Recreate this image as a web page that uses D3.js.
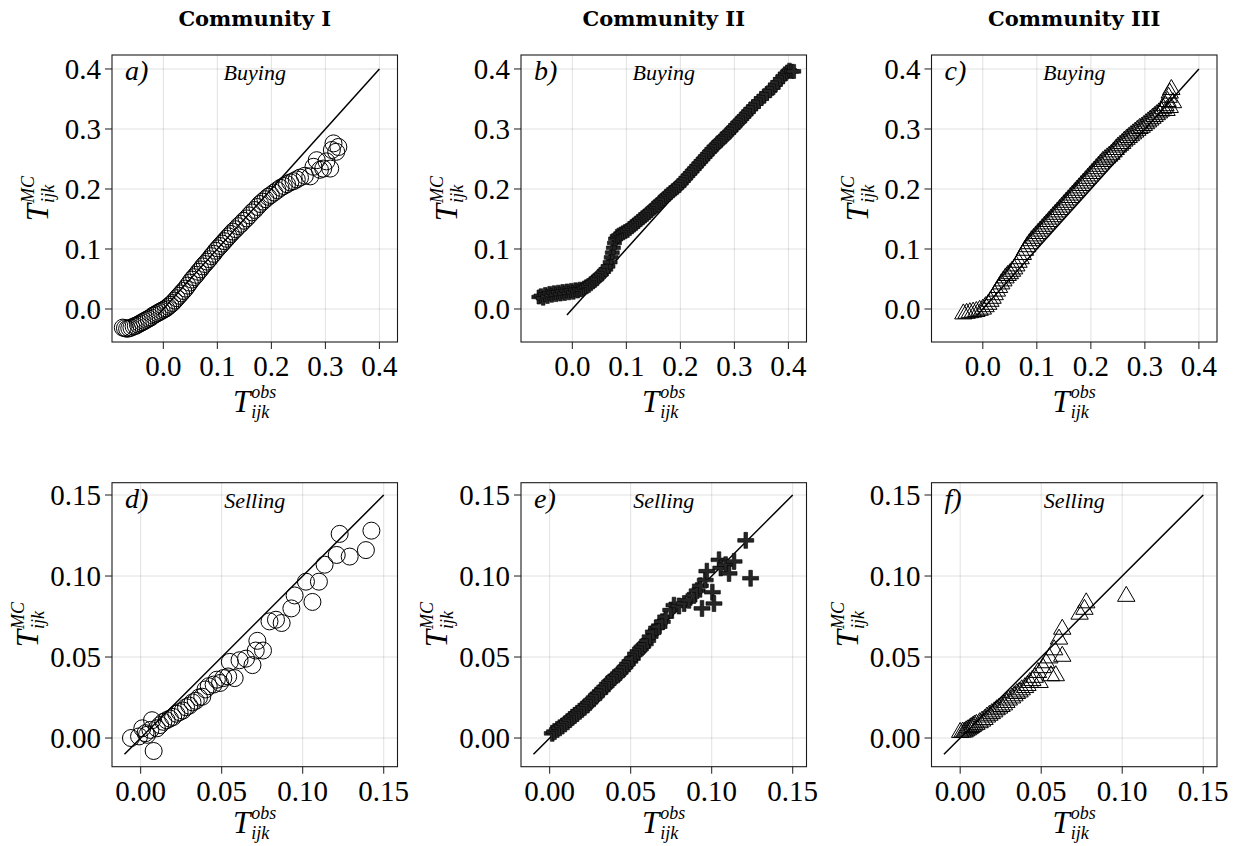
<!DOCTYPE html>
<html><head><meta charset="utf-8">
<script src="https://cdn.jsdelivr.net/npm/d3@7"></script>
<style>body{margin:0;background:#fff;} svg{display:block;}</style>
</head><body><svg id="c" width="1240" height="846"></svg>
<script>
// ---------- data ----------
const titles = ["Community I", "Community II", "Community III"];
const panelLetters = ["a)", "b)", "c)", "d)", "e)", "f)"];
const rowNames = ["Buying", "Selling"];
const topTicks = [0, 0.1, 0.2, 0.3, 0.4];
const topTickLabels = ["0.0", "0.1", "0.2", "0.3", "0.4"];
const bottomTicks = [0, 0.05, 0.10, 0.15];
const bottomTickLabels = ["0.00", "0.05", "0.10", "0.15"];
const topDiag = [-0.01, 0.4];
const bottomDiag = [-0.01, 0.15];

// a) Community I, buying (circles)
const aX = [-0.075,-0.071,-0.067,-0.063,-0.059,-0.055,-0.051,-0.047,-0.043,-0.039,-0.035,-0.031,-0.027,-0.023,-0.019,-0.015,-0.011,-0.007,-0.003,0.001,0.005,0.009,0.013,0.017,0.021,0.025,0.029,0.033,0.037,0.041,0.045,0.049,0.053,0.057,0.061,0.065,0.069,0.073,0.077,0.081,0.085,0.089,0.093,0.097,0.101,0.105,0.109,0.113,0.117,0.121,0.125,0.129,0.134,0.139,0.144,0.149,0.154,0.159,0.164,0.169,0.174,0.179,0.184,0.189,0.194,0.199,0.205,0.211,0.217,0.223,0.229,0.235,0.241,0.247,0.253,0.262,0.272,0.278,0.284,0.290,0.296,0.302,0.309,0.312,0.315,0.320,0.324];
const aY = [-0.031,-0.032,-0.033,-0.032,-0.031,-0.029,-0.028,-0.026,-0.024,-0.022,-0.020,-0.018,-0.016,-0.014,-0.011,-0.009,-0.007,-0.005,-0.003,-0.001,0.001,0.004,0.007,0.010,0.014,0.018,0.022,0.026,0.030,0.034,0.039,0.044,0.049,0.053,0.057,0.062,0.066,0.071,0.075,0.079,0.083,0.088,0.092,0.097,0.101,0.105,0.109,0.113,0.117,0.121,0.125,0.129,0.133,0.138,0.142,0.147,0.151,0.156,0.161,0.165,0.170,0.175,0.179,0.183,0.187,0.190,0.194,0.198,0.202,0.205,0.208,0.211,0.213,0.216,0.219,0.222,0.221,0.237,0.248,0.232,0.234,0.246,0.234,0.265,0.276,0.262,0.270];

// b) Community II, buying (plus)
const bX = [-0.062,-0.058,-0.054,-0.050,-0.046,-0.042,-0.038,-0.034,-0.030,-0.026,-0.022,-0.018,-0.014,-0.010,-0.006,-0.002,0.002,0.006,0.010,0.014,0.018,0.022,0.026,0.030,0.034,0.038,0.042,0.046,0.050,0.054,0.058,0.062,0.066,0.070,0.072,0.074,0.076,0.078,0.080,0.083,0.086,0.090,0.094,0.098,0.102,0.106,0.110,0.114,0.118,0.122,0.126,0.130,0.134,0.138,0.142,0.146,0.150,0.154,0.158,0.162,0.166,0.170,0.174,0.178,0.182,0.186,0.190,0.194,0.198,0.202,0.206,0.210,0.214,0.218,0.222,0.226,0.230,0.234,0.238,0.242,0.246,0.250,0.254,0.258,0.262,0.266,0.270,0.274,0.278,0.282,0.286,0.290,0.294,0.298,0.302,0.306,0.310,0.314,0.318,0.322,0.326,0.330,0.335,0.340,0.345,0.350,0.355,0.360,0.366,0.372,0.376,0.380,0.385,0.390,0.394,0.398,0.402,0.406,0.410];
const bY = [0.020,0.022,0.018,0.024,0.021,0.026,0.023,0.027,0.024,0.028,0.025,0.029,0.026,0.030,0.027,0.031,0.028,0.032,0.030,0.033,0.032,0.035,0.037,0.039,0.042,0.045,0.048,0.051,0.055,0.058,0.062,0.066,0.071,0.078,0.086,0.094,0.102,0.110,0.117,0.121,0.123,0.125,0.127,0.129,0.131,0.134,0.137,0.140,0.143,0.146,0.149,0.152,0.155,0.158,0.161,0.164,0.168,0.171,0.174,0.178,0.181,0.184,0.188,0.191,0.194,0.197,0.200,0.203,0.206,0.210,0.214,0.218,0.222,0.226,0.230,0.234,0.238,0.242,0.246,0.250,0.254,0.258,0.262,0.266,0.270,0.273,0.277,0.280,0.284,0.287,0.291,0.294,0.298,0.302,0.306,0.310,0.313,0.317,0.321,0.325,0.329,0.333,0.337,0.342,0.346,0.351,0.355,0.359,0.364,0.369,0.374,0.378,0.383,0.388,0.392,0.395,0.398,0.396,0.396];

// c) Community III, buying (triangles)
const cX = [-0.036,-0.030,-0.024,-0.018,-0.012,-0.006,0.000,0.005,0.010,0.014,0.018,0.022,0.026,0.030,0.034,0.038,0.042,0.046,0.050,0.054,0.058,0.062,0.066,0.070,0.074,0.078,0.082,0.086,0.090,0.094,0.098,0.102,0.106,0.110,0.114,0.118,0.122,0.126,0.130,0.134,0.138,0.142,0.146,0.150,0.154,0.158,0.162,0.166,0.170,0.174,0.178,0.182,0.186,0.190,0.194,0.198,0.202,0.206,0.210,0.214,0.218,0.222,0.226,0.230,0.234,0.238,0.242,0.246,0.250,0.254,0.258,0.262,0.266,0.270,0.274,0.278,0.282,0.286,0.290,0.294,0.298,0.302,0.306,0.310,0.314,0.318,0.322,0.326,0.330,0.334,0.338,0.342,0.344,0.346,0.349,0.352,0.346,0.340];
const cY = [-0.004,-0.003,-0.002,-0.001,0.000,0.002,0.004,0.008,0.012,0.017,0.022,0.028,0.034,0.040,0.046,0.051,0.056,0.060,0.063,0.067,0.071,0.076,0.082,0.088,0.095,0.102,0.108,0.113,0.118,0.122,0.126,0.130,0.134,0.138,0.142,0.146,0.150,0.154,0.158,0.162,0.166,0.170,0.174,0.178,0.182,0.186,0.190,0.194,0.198,0.202,0.206,0.210,0.214,0.218,0.222,0.226,0.230,0.234,0.238,0.242,0.246,0.250,0.253,0.256,0.259,0.262,0.266,0.270,0.274,0.277,0.280,0.284,0.287,0.290,0.293,0.296,0.299,0.302,0.305,0.307,0.310,0.313,0.316,0.319,0.322,0.325,0.328,0.331,0.334,0.338,0.343,0.350,0.357,0.364,0.370,0.348,0.340,0.335];

// d) Community I, selling (circles)
const dX = [-0.006,-0.001,0.001,0.003,0.004,0.006,0.007,0.008,0.010,0.012,0.014,0.016,0.018,0.020,0.022,0.024,0.026,0.028,0.030,0.032,0.034,0.036,0.038,0.040,0.042,0.045,0.047,0.049,0.051,0.054,0.055,0.058,0.061,0.065,0.069,0.071,0.072,0.0755,0.0795,0.0835,0.087,0.093,0.095,0.102,0.106,0.110,0.1135,0.121,0.1228,0.129,0.139,0.1424];
const dY = [0.000,0.001,0.006,0.003,0.002,0.005,0.011,-0.008,0.006,0.008,0.010,0.011,0.012,0.013,0.015,0.016,0.017,0.019,0.020,0.022,0.023,0.025,0.0255,0.030,0.032,0.033,0.036,0.034,0.037,0.038,0.047,0.037,0.048,0.049,0.045,0.054,0.060,0.054,0.072,0.073,0.071,0.080,0.088,0.0965,0.084,0.0965,0.107,0.113,0.126,0.112,0.116,0.128];

// e) Community II, selling (plus)
const eX = [0.0016,0.0030,0.0047,0.0062,0.0078,0.0094,0.011,0.0125,0.014,0.0155,0.017,0.0185,0.020,0.0215,0.0233,0.0248,0.026,0.0275,0.029,0.031,0.0325,0.034,0.0356,0.037,0.0387,0.040,0.042,0.0435,0.045,0.0465,0.048,0.0495,0.051,0.053,0.0545,0.056,0.0575,0.059,0.0605,0.062,0.064,0.066,0.0675,0.0695,0.0716,0.0747,0.0767,0.0798,0.083,0.086,0.089,0.091,0.093,0.094,0.096,0.097,0.1004,0.1014,0.1045,0.1056,0.1086,0.1107,0.1138,0.121,0.124];
const eY = [0.0029,0.0040,0.0053,0.0063,0.0074,0.0087,0.0100,0.0114,0.0128,0.0140,0.0152,0.0165,0.0177,0.0190,0.0204,0.0220,0.0235,0.0250,0.0265,0.0280,0.0296,0.0315,0.0333,0.0346,0.0360,0.0375,0.0390,0.0405,0.0420,0.0438,0.0457,0.0473,0.0490,0.0520,0.0535,0.0550,0.0565,0.0580,0.0600,0.0626,0.0656,0.0680,0.0687,0.0718,0.0749,0.0790,0.0820,0.0815,0.0830,0.0850,0.0880,0.0910,0.0940,0.0800,0.0975,0.1030,0.0900,0.0830,0.1100,0.1050,0.1070,0.1016,0.1090,0.1220,0.0986];

// f) Community III, selling (triangles)
const fX = [0.000,0.0015,0.0027,0.0037,0.0047,0.0058,0.0068,0.0078,0.0088,0.010,0.012,0.0135,0.015,0.0165,0.018,0.0195,0.021,0.0225,0.024,0.0255,0.027,0.0285,0.030,0.032,0.0335,0.035,0.0366,0.038,0.040,0.0415,0.043,0.0445,0.046,0.048,0.049,0.051,0.053,0.055,0.056,0.058,0.059,0.061,0.063,0.063,0.0737,0.0767,0.0778,0.1025];
const fY = [0.005,0.0052,0.0053,0.006,0.0066,0.0073,0.008,0.0087,0.0095,0.010,0.011,0.012,0.013,0.0145,0.0156,0.0166,0.0177,0.019,0.020,0.021,0.022,0.0235,0.025,0.0263,0.0276,0.029,0.030,0.0313,0.0327,0.034,0.0358,0.037,0.039,0.042,0.0358,0.045,0.048,0.051,0.040,0.056,0.040,0.0626,0.052,0.0687,0.078,0.081,0.085,0.089];

// ---------- layout ----------
const svg = d3.select("#c");
const colLeft = [112, 521, 931.5];
const panelW = 285.5;
const rowTop = [55, 482.7];
const rowH = [287, 284];
const SERIF = "'Liberation Serif', 'Times New Roman', serif";

const rows = [
  { xDom: [-0.095, 0.4335], yDom: [-0.055, 0.4233], ticks: topTicks, labels: topTickLabels, diag: topDiag, ylabOff: 64, xlabOff: 70 },
  { xDom: [-0.0177, 0.1585], yDom: [-0.0177, 0.1576], ticks: bottomTicks, labels: bottomTickLabels, diag: bottomDiag, ylabOff: 74, xlabOff: 66 }
];
const panels = [
  { x: aX, y: aY, m: "circle", r: 0, c: 0 },
  { x: bX, y: bY, m: "plus", r: 0, c: 1, s: 14 },
  { x: cX, y: cY, m: "tri", r: 0, c: 2 },
  { x: dX, y: dY, m: "circle", r: 1, c: 0 },
  { x: eX, y: eY, m: "plus", r: 1, c: 1, s: 16 },
  { x: fX, y: fY, m: "tri", r: 1, c: 2 }
];

function plusPath(s, t) {
  const a = s / 2, h = t / 2;
  return `M${-h},${-a}H${h}V${-h}H${a}V${h}H${h}V${a}H${-h}V${h}H${-a}V${-h}H${-h}Z`;
}
const triPath = "M0,-7.5L8.7,7.5L-8.7,7.5Z";

// titles
titles.forEach((t, i) => {
  svg.append("text").attr("x", colLeft[i] + panelW / 2).attr("y", 26)
    .attr("text-anchor", "middle").attr("font-family", "'DejaVu Serif', serif")
    .attr("font-weight", "bold").attr("font-size", 21).attr("fill", "#000").text(t);
});

function textW(str, size) {
  const t = svg.append("text").attr("font-family", SERIF).attr("font-style", "italic")
    .attr("font-size", size).text(str);
  const w = t.node().getComputedTextLength();
  t.remove();
  return w;
}

// T with superscript / subscript, as one text element
function mathLabel(g, sup, sub) {
  const tw = textW("T", 31), spw = textW(sup, 18), sbw = textW(sub, 18);
  const t = g.append("text").attr("font-family", SERIF).attr("font-style", "italic")
    .attr("x", 0).attr("y", 0);
  t.append("tspan").attr("font-size", 31).text("T");
  t.append("tspan").attr("font-size", 18).attr("dx", 1).attr("dy", -14).text(sup);
  t.append("tspan").attr("font-size", 18).attr("dx", -spw).attr("dy", 20).text(sub);
  return Math.max(tw + 1 + spw, tw + 1 + sbw);
}

panels.forEach((p, idx) => {
  const R = rows[p.r];
  const L = colLeft[p.c], Tp = rowTop[p.r], H = rowH[p.r];
  const x = d3.scaleLinear().domain(R.xDom).range([L, L + panelW]);
  const y = d3.scaleLinear().domain(R.yDom).range([Tp + H, Tp]);
  const g = svg.append("g");

  // grid
  g.append("g").selectAll("line").data(R.ticks).join("line")
    .attr("x1", d => x(d)).attr("x2", d => x(d)).attr("y1", Tp).attr("y2", Tp + H)
    .attr("stroke", "#000").attr("stroke-opacity", 0.12).attr("stroke-width", 1);
  g.append("g").selectAll("line").data(R.ticks).join("line")
    .attr("y1", d => y(d)).attr("y2", d => y(d)).attr("x1", L).attr("x2", L + panelW)
    .attr("stroke", "#000").attr("stroke-opacity", 0.12).attr("stroke-width", 1);

  const clipId = "clip" + idx;
  svg.append("clipPath").attr("id", clipId).append("rect")
    .attr("x", L).attr("y", Tp).attr("width", panelW).attr("height", H);
  const plot = g.append("g").attr("clip-path", `url(#${clipId})`);

  // diagonal
  plot.append("line").attr("x1", x(R.diag[0])).attr("y1", y(R.diag[0]))
    .attr("x2", x(R.diag[1])).attr("y2", y(R.diag[1]))
    .attr("stroke", "#000").attr("stroke-width", 1.5);

  const pts = p.x.map((v, i) => [v, p.y[i]]);
  if (p.m === "circle") {
    plot.selectAll("circle").data(pts).join("circle")
      .attr("cx", d => x(d[0])).attr("cy", d => y(d[1])).attr("r", 8.5)
      .attr("fill", "none").attr("stroke", "#000").attr("stroke-width", 1);
  } else if (p.m === "plus") {
    const pp = plusPath(p.s, 3.6);
    plot.selectAll("path.mk").data(pts).join("path").attr("class", "mk")
      .attr("d", pp).attr("transform", d => `translate(${x(d[0])},${y(d[1])})`)
      .attr("fill", "#262626").attr("stroke", "#000").attr("stroke-width", 0.6);
  } else {
    plot.selectAll("path.mk").data(pts).join("path").attr("class", "mk")
      .attr("d", triPath).attr("transform", d => `translate(${x(d[0])},${y(d[1])})`)
      .attr("fill", "none").attr("stroke", "#000").attr("stroke-width", 1);
  }

  // frame
  g.append("rect").attr("x", L).attr("y", Tp).attr("width", panelW).attr("height", H)
    .attr("fill", "none").attr("stroke", "#1a1a1a").attr("stroke-width", 1.1);

  // ticks
  g.append("g").selectAll("line").data(R.ticks).join("line")
    .attr("x1", d => x(d)).attr("x2", d => x(d)).attr("y1", Tp + H).attr("y2", Tp + H + 7)
    .attr("stroke", "#1a1a1a").attr("stroke-width", 1);
  g.append("g").selectAll("line").data(R.ticks).join("line")
    .attr("y1", d => y(d)).attr("y2", d => y(d)).attr("x1", L - 7).attr("x2", L)
    .attr("stroke", "#1a1a1a").attr("stroke-width", 1);

  // tick labels
  g.append("g").selectAll("text").data(R.ticks).join("text")
    .attr("x", d => x(d)).attr("y", Tp + H + 34).attr("text-anchor", "middle")
    .attr("font-family", SERIF).attr("font-size", 29).text((d, i) => R.labels[i]);
  g.append("g").selectAll("text").data(R.ticks).join("text")
    .attr("x", L - 11).attr("y", d => y(d) + 10).attr("text-anchor", "end")
    .attr("font-family", SERIF).attr("font-size", 29).text((d, i) => R.labels[i]);

  // panel letter and row name
  g.append("text").attr("x", L + 13).attr("y", Tp + 25).attr("font-family", SERIF)
    .attr("font-style", "italic").attr("font-size", 28).text(panelLetters[idx]);
  g.append("text").attr("x", L + panelW / 2).attr("y", Tp + 25).attr("text-anchor", "middle")
    .attr("font-family", SERIF).attr("font-style", "italic").attr("font-size", 22).text(rowNames[p.r]);

  // x label
  const xl = g.append("g");
  const wx = mathLabel(xl, "obs", "ijk");
  xl.attr("transform", `translate(${L + panelW / 2 - wx / 2},${Tp + H + R.xlabOff})`);

  // y label
  const yl = g.append("g");
  const wy = mathLabel(yl, "MC", "ijk");
  yl.attr("transform", `translate(${L - R.ylabOff},${Tp + H / 2 + wy / 2}) rotate(-90)`);
});
</script>
</body></html>
